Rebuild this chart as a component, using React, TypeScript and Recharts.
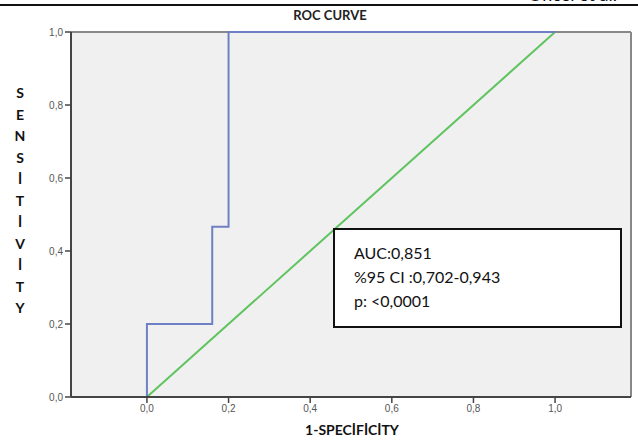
import React from "react";
import { LineChart, Line, XAxis, YAxis, CartesianGrid, ReferenceLine } from "recharts";

const X_MIN = -0.186;
const X_MAX = 1.186;
const xTicks = [0, 0.2, 0.4, 0.6, 0.8, 1.0];
const yTicks = [0, 0.2, 0.4, 0.6, 0.8, 1.0];

const rocFpr = [0, 0, 0.16, 0.16, 0.2, 0.2, 1.0];
const rocTpr = [0, 0.2, 0.2, 0.4667, 0.4667, 1.0, 1.0];
const refFpr = [0, 1];
const refTpr = [0, 1];

const rocData = rocFpr.map((x, i) => ({ x, y: rocTpr[i] }));
const refData = refFpr.map((x, i) => ({ x, y: refTpr[i] }));

const yLabelLetters = ["S", "E", "N", "S", "İ", "T", "İ", "V", "İ", "T", "Y"];
const annotation = ["AUC:0,851", "%95 CI :0,702-0,943", "p: <0,0001"];

const fmt = (v: number) => v.toFixed(1).replace(".", ",");

const tickStyle = { fontSize: 10, fill: "#555", fontFamily: "'Liberation Sans', Arial, sans-serif" };

export default function App() {
  return (
    <div style={{ position: "absolute", left: 0, top: 0, width: 638, height: 445, overflow: "hidden", background: "#fff" }}>
      {/* header strip */}
      <div style={{ position: "absolute", left: 0, top: 4, width: 638, height: 2, background: "#111" }} />
      <div style={{ position: "absolute", left: 528, top: -15, fontFamily: "Lato, sans-serif", fontSize: 18, lineHeight: "18px", color: "#111", whiteSpace: "nowrap" }}>
        Öncel et al.
      </div>
      <div style={{ position: "absolute", left: 0, top: 7, width: 660, textAlign: "center", fontFamily: "Lato, sans-serif", fontWeight: 700, fontSize: 13, color: "#222" }}>
        ROC CURVE
      </div>
      <LineChart width={638} height={445} margin={{ top: 32, right: 7, bottom: 18, left: 31 }}>
        <CartesianGrid fill="#f0f0f0" stroke="none" horizontal={false} vertical={false} />
        <XAxis
          type="number"
          dataKey="x"
          domain={[X_MIN, X_MAX]}
          ticks={xTicks}
          tickFormatter={fmt}
          allowDataOverflow
          height={30}
          tickSize={6}
          axisLine={{ stroke: "#444", strokeWidth: 2 }}
          tickLine={{ stroke: "#444", strokeWidth: 1.5 }}
          tick={tickStyle}
        />
        <YAxis
          type="number"
          dataKey="y"
          domain={[0, 1]}
          ticks={yTicks}
          tickFormatter={fmt}
          width={40}
          tickSize={6}
          axisLine={{ stroke: "#444", strokeWidth: 2 }}
          tickLine={{ stroke: "#444", strokeWidth: 1.5 }}
          tick={tickStyle}
        />
        <ReferenceLine y={1} stroke="#888" strokeWidth={2} />
        <ReferenceLine x={X_MAX} stroke="#888" strokeWidth={2} />
        <Line data={refData} dataKey="y" type="linear" stroke="#5fc45f" strokeWidth={2} dot={false} isAnimationActive={false} />
        <Line data={rocData} dataKey="y" type="linear" stroke="#6d80c4" strokeWidth={2} dot={false} isAnimationActive={false} />
      </LineChart>
      {/* y label */}
      {yLabelLetters.map((ch, i) => (
        <div
          key={i}
          style={{
            position: "absolute",
            left: 10,
            width: 20,
            top: 84 + i * 21.5,
            height: 18,
            textAlign: "center",
            fontFamily: "Lato, sans-serif",
            fontWeight: 700,
            fontSize: 14,
            lineHeight: "18px",
            color: "#111",
          }}
        >
          {ch}
        </div>
      ))}
      {/* x label */}
      <div style={{ position: "absolute", left: 252, width: 200, top: 421, textAlign: "center", fontFamily: "Lato, sans-serif", fontWeight: 700, fontSize: 14, color: "#111" }}>
        1-SPECİFİCİTY
      </div>
      {/* annotation box */}
      <div
        style={{
          position: "absolute",
          left: 333,
          top: 228,
          width: 285,
          height: 96,
          background: "#fff",
          border: "2px solid #111",
          boxSizing: "content-box",
          fontFamily: "Lato, sans-serif",
          fontSize: 16,
          color: "#111",
        }}
      >
        {annotation.map((t, i) => (
          <div key={i} style={{ position: "absolute", left: 19, top: 13 + i * 24, lineHeight: "20px", whiteSpace: "nowrap" }}>
            {t}
          </div>
        ))}
      </div>
    </div>
  );
}
